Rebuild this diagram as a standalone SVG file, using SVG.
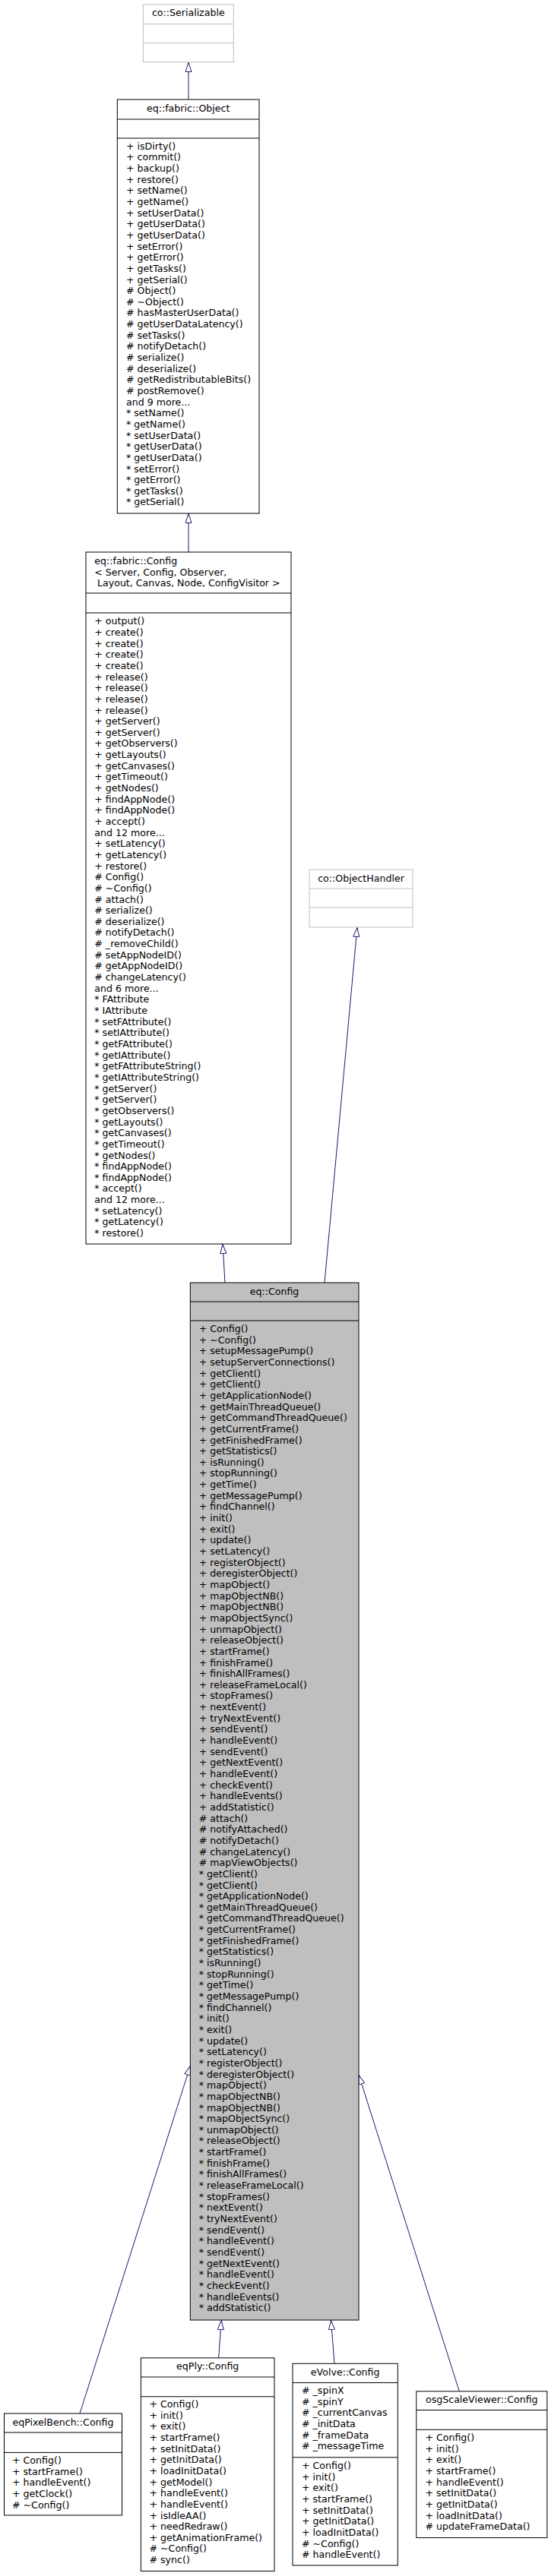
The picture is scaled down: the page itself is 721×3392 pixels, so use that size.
<svg xmlns="http://www.w3.org/2000/svg" width="721" height="3392" viewBox="0 0 721 3392">
<style>
.t{font-family:"DejaVu Sans","Liberation Sans",sans-serif;font-size:12.6px;fill:#000}
.c{text-anchor:middle}
.box{fill:#fff;stroke:#000;stroke-width:1}
.gbox{fill:#fff;stroke:#bfbfbf;stroke-width:1}
.hl{fill:#bfbfbf;stroke:#000;stroke-width:1}
.sep{stroke:#000;stroke-width:1}
.gsep{stroke:#bfbfbf;stroke-width:1}
.edge{stroke:#191970;stroke-width:1;fill:none;marker-end:url(#tri)}
</style>
<defs>
<marker id="tri" viewBox="0 0 13 9" refX="13" refY="4.5" markerWidth="13" markerHeight="9" markerUnits="userSpaceOnUse" orient="auto">
<path d="M0.5,0.5 L12.5,4.5 L0.5,8.5 z" fill="#fff" stroke="#191970" stroke-width="1"/>
</marker>
</defs>
<rect width="721" height="3392" fill="#fff"/>
<g id="edges">
<path class="edge" d="M248,131 L248,82"/>
<path class="edge" d="M248,727 L248,676"/>
<path class="edge" d="M296,1689 L293,1638"/>
<path class="edge" d="M427,1689 L470,1221"/>
<path class="edge" d="M105,3178 L250.5,2720"/>
<path class="edge" d="M287.6,3104.8 L291.3,3055"/>
<path class="edge" d="M440,3112.3 L435.5,3055"/>
<path class="edge" d="M604.3,3148.8 L472,2732"/>
</g>
<g id="co_Serializable">
<rect class="gbox" x="188.3" y="5.7" width="119" height="76"/>
<line class="gsep" x1="188.3" y1="31.7" x2="307.3" y2="31.7"/>
<line class="gsep" x1="188.3" y1="56.7" x2="307.3" y2="56.7"/>
<text class="t c" x="247.8" y="21.2">co::Serializable</text>
</g>
<g id="eq_fabric_Object">
<rect class="box" x="154.3" y="131" width="186.7" height="545"/>
<line class="sep" x1="154.3" y1="157" x2="341" y2="157"/>
<line class="sep" x1="154.3" y1="182" x2="341" y2="182"/>
<text class="t c" x="247.7" y="146.5">eq::fabric::Object</text>
<text class="t" x="166" y="196.7"><tspan x="166">+ isDirty()</tspan><tspan x="166" dy="14.65">+ commit()</tspan><tspan x="166" dy="14.65">+ backup()</tspan><tspan x="166" dy="14.65">+ restore()</tspan><tspan x="166" dy="14.65">+ setName()</tspan><tspan x="166" dy="14.65">+ getName()</tspan><tspan x="166" dy="14.65">+ setUserData()</tspan><tspan x="166" dy="14.65">+ getUserData()</tspan><tspan x="166" dy="14.65">+ getUserData()</tspan><tspan x="166" dy="14.65">+ setError()</tspan><tspan x="166" dy="14.65">+ getError()</tspan><tspan x="166" dy="14.65">+ getTasks()</tspan><tspan x="166" dy="14.65">+ getSerial()</tspan><tspan x="166" dy="14.65"># Object()</tspan><tspan x="166" dy="14.65"># ~Object()</tspan><tspan x="166" dy="14.65"># hasMasterUserData()</tspan><tspan x="166" dy="14.65"># getUserDataLatency()</tspan><tspan x="166" dy="14.65"># setTasks()</tspan><tspan x="166" dy="14.65"># notifyDetach()</tspan><tspan x="166" dy="14.65"># serialize()</tspan><tspan x="166" dy="14.65"># deserialize()</tspan><tspan x="166" dy="14.65"># getRedistributableBits()</tspan><tspan x="166" dy="14.65"># postRemove()</tspan><tspan x="166" dy="14.65">and 9 more...</tspan><tspan x="166" dy="14.65">* setName()</tspan><tspan x="166" dy="14.65">* getName()</tspan><tspan x="166" dy="14.65">* setUserData()</tspan><tspan x="166" dy="14.65">* getUserData()</tspan><tspan x="166" dy="14.65">* getUserData()</tspan><tspan x="166" dy="14.65">* setError()</tspan><tspan x="166" dy="14.65">* getError()</tspan><tspan x="166" dy="14.65">* getTasks()</tspan><tspan x="166" dy="14.65">* getSerial()</tspan></text>
</g>
<g id="eq_fabric_Config">
<rect class="box" x="113" y="727" width="270" height="911"/>
<line class="sep" x1="113" y1="781" x2="383" y2="781"/>
<line class="sep" x1="113" y1="807" x2="383" y2="807"/>
<text class="t" x="124.3" y="743.2">eq::fabric::Config</text>
<text class="t" x="124.3" y="757.8">&lt; Server, Config, Observer,</text>
<text class="t" x="128" y="772.4">Layout, Canvas, Node, ConfigVisitor &gt;</text>
<text class="t" x="124.3" y="822.3"><tspan x="124.3">+ output()</tspan><tspan x="124.3" dy="14.65">+ create()</tspan><tspan x="124.3" dy="14.65">+ create()</tspan><tspan x="124.3" dy="14.65">+ create()</tspan><tspan x="124.3" dy="14.65">+ create()</tspan><tspan x="124.3" dy="14.65">+ release()</tspan><tspan x="124.3" dy="14.65">+ release()</tspan><tspan x="124.3" dy="14.65">+ release()</tspan><tspan x="124.3" dy="14.65">+ release()</tspan><tspan x="124.3" dy="14.65">+ getServer()</tspan><tspan x="124.3" dy="14.65">+ getServer()</tspan><tspan x="124.3" dy="14.65">+ getObservers()</tspan><tspan x="124.3" dy="14.65">+ getLayouts()</tspan><tspan x="124.3" dy="14.65">+ getCanvases()</tspan><tspan x="124.3" dy="14.65">+ getTimeout()</tspan><tspan x="124.3" dy="14.65">+ getNodes()</tspan><tspan x="124.3" dy="14.65">+ findAppNode()</tspan><tspan x="124.3" dy="14.65">+ findAppNode()</tspan><tspan x="124.3" dy="14.65">+ accept()</tspan><tspan x="124.3" dy="14.65">and 12 more...</tspan><tspan x="124.3" dy="14.65">+ setLatency()</tspan><tspan x="124.3" dy="14.65">+ getLatency()</tspan><tspan x="124.3" dy="14.65">+ restore()</tspan><tspan x="124.3" dy="14.65"># Config()</tspan><tspan x="124.3" dy="14.65"># ~Config()</tspan><tspan x="124.3" dy="14.65"># attach()</tspan><tspan x="124.3" dy="14.65"># serialize()</tspan><tspan x="124.3" dy="14.65"># deserialize()</tspan><tspan x="124.3" dy="14.65"># notifyDetach()</tspan><tspan x="124.3" dy="14.65"># _removeChild()</tspan><tspan x="124.3" dy="14.65"># setAppNodeID()</tspan><tspan x="124.3" dy="14.65"># getAppNodeID()</tspan><tspan x="124.3" dy="14.65"># changeLatency()</tspan><tspan x="124.3" dy="14.65">and 6 more...</tspan><tspan x="124.3" dy="14.65">* FAttribute</tspan><tspan x="124.3" dy="14.65">* IAttribute</tspan><tspan x="124.3" dy="14.65">* setFAttribute()</tspan><tspan x="124.3" dy="14.65">* setIAttribute()</tspan><tspan x="124.3" dy="14.65">* getFAttribute()</tspan><tspan x="124.3" dy="14.65">* getIAttribute()</tspan><tspan x="124.3" dy="14.65">* getFAttributeString()</tspan><tspan x="124.3" dy="14.65">* getIAttributeString()</tspan><tspan x="124.3" dy="14.65">* getServer()</tspan><tspan x="124.3" dy="14.65">* getServer()</tspan><tspan x="124.3" dy="14.65">* getObservers()</tspan><tspan x="124.3" dy="14.65">* getLayouts()</tspan><tspan x="124.3" dy="14.65">* getCanvases()</tspan><tspan x="124.3" dy="14.65">* getTimeout()</tspan><tspan x="124.3" dy="14.65">* getNodes()</tspan><tspan x="124.3" dy="14.65">* findAppNode()</tspan><tspan x="124.3" dy="14.65">* findAppNode()</tspan><tspan x="124.3" dy="14.65">* accept()</tspan><tspan x="124.3" dy="14.65">and 12 more...</tspan><tspan x="124.3" dy="14.65">* setLatency()</tspan><tspan x="124.3" dy="14.65">* getLatency()</tspan><tspan x="124.3" dy="14.65">* restore()</tspan></text>
</g>
<g id="co_ObjectHandler">
<rect class="gbox" x="407" y="1145" width="136" height="76"/>
<line class="gsep" x1="407" y1="1170" x2="543" y2="1170"/>
<line class="gsep" x1="407" y1="1195" x2="543" y2="1195"/>
<text class="t c" x="475" y="1160.5">co::ObjectHandler</text>
</g>
<g id="eq_Config">
<rect class="hl" x="250.3" y="1689" width="221.7" height="1366"/>
<line class="sep" x1="250.3" y1="1714" x2="472" y2="1714"/>
<line class="sep" x1="250.3" y1="1739" x2="472" y2="1739"/>
<text class="t c" x="361" y="1705">eq::Config</text>
<text class="t" x="261.7" y="1754"><tspan x="261.7">+ Config()</tspan><tspan x="261.7" dy="14.65">+ ~Config()</tspan><tspan x="261.7" dy="14.65">+ setupMessagePump()</tspan><tspan x="261.7" dy="14.65">+ setupServerConnections()</tspan><tspan x="261.7" dy="14.65">+ getClient()</tspan><tspan x="261.7" dy="14.65">+ getClient()</tspan><tspan x="261.7" dy="14.65">+ getApplicationNode()</tspan><tspan x="261.7" dy="14.65">+ getMainThreadQueue()</tspan><tspan x="261.7" dy="14.65">+ getCommandThreadQueue()</tspan><tspan x="261.7" dy="14.65">+ getCurrentFrame()</tspan><tspan x="261.7" dy="14.65">+ getFinishedFrame()</tspan><tspan x="261.7" dy="14.65">+ getStatistics()</tspan><tspan x="261.7" dy="14.65">+ isRunning()</tspan><tspan x="261.7" dy="14.65">+ stopRunning()</tspan><tspan x="261.7" dy="14.65">+ getTime()</tspan><tspan x="261.7" dy="14.65">+ getMessagePump()</tspan><tspan x="261.7" dy="14.65">+ findChannel()</tspan><tspan x="261.7" dy="14.65">+ init()</tspan><tspan x="261.7" dy="14.65">+ exit()</tspan><tspan x="261.7" dy="14.65">+ update()</tspan><tspan x="261.7" dy="14.65">+ setLatency()</tspan><tspan x="261.7" dy="14.65">+ registerObject()</tspan><tspan x="261.7" dy="14.65">+ deregisterObject()</tspan><tspan x="261.7" dy="14.65">+ mapObject()</tspan><tspan x="261.7" dy="14.65">+ mapObjectNB()</tspan><tspan x="261.7" dy="14.65">+ mapObjectNB()</tspan><tspan x="261.7" dy="14.65">+ mapObjectSync()</tspan><tspan x="261.7" dy="14.65">+ unmapObject()</tspan><tspan x="261.7" dy="14.65">+ releaseObject()</tspan><tspan x="261.7" dy="14.65">+ startFrame()</tspan><tspan x="261.7" dy="14.65">+ finishFrame()</tspan><tspan x="261.7" dy="14.65">+ finishAllFrames()</tspan><tspan x="261.7" dy="14.65">+ releaseFrameLocal()</tspan><tspan x="261.7" dy="14.65">+ stopFrames()</tspan><tspan x="261.7" dy="14.65">+ nextEvent()</tspan><tspan x="261.7" dy="14.65">+ tryNextEvent()</tspan><tspan x="261.7" dy="14.65">+ sendEvent()</tspan><tspan x="261.7" dy="14.65">+ handleEvent()</tspan><tspan x="261.7" dy="14.65">+ sendEvent()</tspan><tspan x="261.7" dy="14.65">+ getNextEvent()</tspan><tspan x="261.7" dy="14.65">+ handleEvent()</tspan><tspan x="261.7" dy="14.65">+ checkEvent()</tspan><tspan x="261.7" dy="14.65">+ handleEvents()</tspan><tspan x="261.7" dy="14.65">+ addStatistic()</tspan><tspan x="261.7" dy="14.65"># attach()</tspan><tspan x="261.7" dy="14.65"># notifyAttached()</tspan><tspan x="261.7" dy="14.65"># notifyDetach()</tspan><tspan x="261.7" dy="14.65"># changeLatency()</tspan><tspan x="261.7" dy="14.65"># mapViewObjects()</tspan><tspan x="261.7" dy="14.65">* getClient()</tspan><tspan x="261.7" dy="14.65">* getClient()</tspan><tspan x="261.7" dy="14.65">* getApplicationNode()</tspan><tspan x="261.7" dy="14.65">* getMainThreadQueue()</tspan><tspan x="261.7" dy="14.65">* getCommandThreadQueue()</tspan><tspan x="261.7" dy="14.65">* getCurrentFrame()</tspan><tspan x="261.7" dy="14.65">* getFinishedFrame()</tspan><tspan x="261.7" dy="14.65">* getStatistics()</tspan><tspan x="261.7" dy="14.65">* isRunning()</tspan><tspan x="261.7" dy="14.65">* stopRunning()</tspan><tspan x="261.7" dy="14.65">* getTime()</tspan><tspan x="261.7" dy="14.65">* getMessagePump()</tspan><tspan x="261.7" dy="14.65">* findChannel()</tspan><tspan x="261.7" dy="14.65">* init()</tspan><tspan x="261.7" dy="14.65">* exit()</tspan><tspan x="261.7" dy="14.65">* update()</tspan><tspan x="261.7" dy="14.65">* setLatency()</tspan><tspan x="261.7" dy="14.65">* registerObject()</tspan><tspan x="261.7" dy="14.65">* deregisterObject()</tspan><tspan x="261.7" dy="14.65">* mapObject()</tspan><tspan x="261.7" dy="14.65">* mapObjectNB()</tspan><tspan x="261.7" dy="14.65">* mapObjectNB()</tspan><tspan x="261.7" dy="14.65">* mapObjectSync()</tspan><tspan x="261.7" dy="14.65">* unmapObject()</tspan><tspan x="261.7" dy="14.65">* releaseObject()</tspan><tspan x="261.7" dy="14.65">* startFrame()</tspan><tspan x="261.7" dy="14.65">* finishFrame()</tspan><tspan x="261.7" dy="14.65">* finishAllFrames()</tspan><tspan x="261.7" dy="14.65">* releaseFrameLocal()</tspan><tspan x="261.7" dy="14.65">* stopFrames()</tspan><tspan x="261.7" dy="14.65">* nextEvent()</tspan><tspan x="261.7" dy="14.65">* tryNextEvent()</tspan><tspan x="261.7" dy="14.65">* sendEvent()</tspan><tspan x="261.7" dy="14.65">* handleEvent()</tspan><tspan x="261.7" dy="14.65">* sendEvent()</tspan><tspan x="261.7" dy="14.65">* getNextEvent()</tspan><tspan x="261.7" dy="14.65">* handleEvent()</tspan><tspan x="261.7" dy="14.65">* checkEvent()</tspan><tspan x="261.7" dy="14.65">* handleEvents()</tspan><tspan x="261.7" dy="14.65">* addStatistic()</tspan></text>
</g>
<g id="eqPixelBench_Config">
<rect class="box" x="5.5" y="3178" width="155" height="134"/>
<line class="sep" x1="5.5" y1="3203" x2="160.5" y2="3203"/>
<line class="sep" x1="5.5" y1="3229.4" x2="160.5" y2="3229.4"/>
<text class="t c" x="83" y="3193.5">eqPixelBench::Config</text>
<text class="t" x="16" y="3244"><tspan x="16">+ Config()</tspan><tspan x="16" dy="14.65">+ startFrame()</tspan><tspan x="16" dy="14.65">+ handleEvent()</tspan><tspan x="16" dy="14.65">+ getClock()</tspan><tspan x="16" dy="14.65"># ~Config()</tspan></text>
</g>
<g id="eqPly_Config">
<rect class="box" x="185.4" y="3104.8" width="175.6" height="280.8"/>
<line class="sep" x1="185.4" y1="3130" x2="361" y2="3130"/>
<line class="sep" x1="185.4" y1="3155.8" x2="361" y2="3155.8"/>
<text class="t c" x="273.2" y="3120.3">eqPly::Config</text>
<text class="t" x="196.5" y="3170"><tspan x="196.5">+ Config()</tspan><tspan x="196.5" dy="14.65">+ init()</tspan><tspan x="196.5" dy="14.65">+ exit()</tspan><tspan x="196.5" dy="14.65">+ startFrame()</tspan><tspan x="196.5" dy="14.65">+ setInitData()</tspan><tspan x="196.5" dy="14.65">+ getInitData()</tspan><tspan x="196.5" dy="14.65">+ loadInitData()</tspan><tspan x="196.5" dy="14.65">+ getModel()</tspan><tspan x="196.5" dy="14.65">+ handleEvent()</tspan><tspan x="196.5" dy="14.65">+ handleEvent()</tspan><tspan x="196.5" dy="14.65">+ isIdleAA()</tspan><tspan x="196.5" dy="14.65">+ needRedraw()</tspan><tspan x="196.5" dy="14.65">+ getAnimationFrame()</tspan><tspan x="196.5" dy="14.65"># ~Config()</tspan><tspan x="196.5" dy="14.65"># sync()</tspan></text>
</g>
<g id="eVolve_Config">
<rect class="box" x="385" y="3112.3" width="138.3" height="265.7"/>
<line class="sep" x1="385" y1="3137.5" x2="523.3" y2="3137.5"/>
<line class="sep" x1="385" y1="3235.8" x2="523.3" y2="3235.8"/>
<text class="t c" x="454.2" y="3127.8">eVolve::Config</text>
<text class="t" x="397" y="3152"><tspan x="397"># _spinX</tspan><tspan x="397" dy="14.65"># _spinY</tspan><tspan x="397" dy="14.65"># _currentCanvas</tspan><tspan x="397" dy="14.65"># _initData</tspan><tspan x="397" dy="14.65"># _frameData</tspan><tspan x="397" dy="14.65"># _messageTime</tspan></text>
<text class="t" x="397" y="3251"><tspan x="397">+ Config()</tspan><tspan x="397" dy="14.65">+ init()</tspan><tspan x="397" dy="14.65">+ exit()</tspan><tspan x="397" dy="14.65">+ startFrame()</tspan><tspan x="397" dy="14.65">+ setInitData()</tspan><tspan x="397" dy="14.65">+ getInitData()</tspan><tspan x="397" dy="14.65">+ loadInitData()</tspan><tspan x="397" dy="14.65"># ~Config()</tspan><tspan x="397" dy="14.65"># handleEvent()</tspan></text>
</g>
<g id="osgScaleViewer_Config">
<rect class="box" x="547.8" y="3148.8" width="172" height="192.8"/>
<line class="sep" x1="547.8" y1="3173.5" x2="719.8" y2="3173.5"/>
<line class="sep" x1="547.8" y1="3199.3" x2="719.8" y2="3199.3"/>
<text class="t c" x="633.8" y="3164.3">osgScaleViewer::Config</text>
<text class="t" x="559.4" y="3214"><tspan x="559.4">+ Config()</tspan><tspan x="559.4" dy="14.65">+ init()</tspan><tspan x="559.4" dy="14.65">+ exit()</tspan><tspan x="559.4" dy="14.65">+ startFrame()</tspan><tspan x="559.4" dy="14.65">+ handleEvent()</tspan><tspan x="559.4" dy="14.65">+ setInitData()</tspan><tspan x="559.4" dy="14.65">+ getInitData()</tspan><tspan x="559.4" dy="14.65">+ loadInitData()</tspan><tspan x="559.4" dy="14.65"># updateFrameData()</tspan></text>
</g>
</svg>
